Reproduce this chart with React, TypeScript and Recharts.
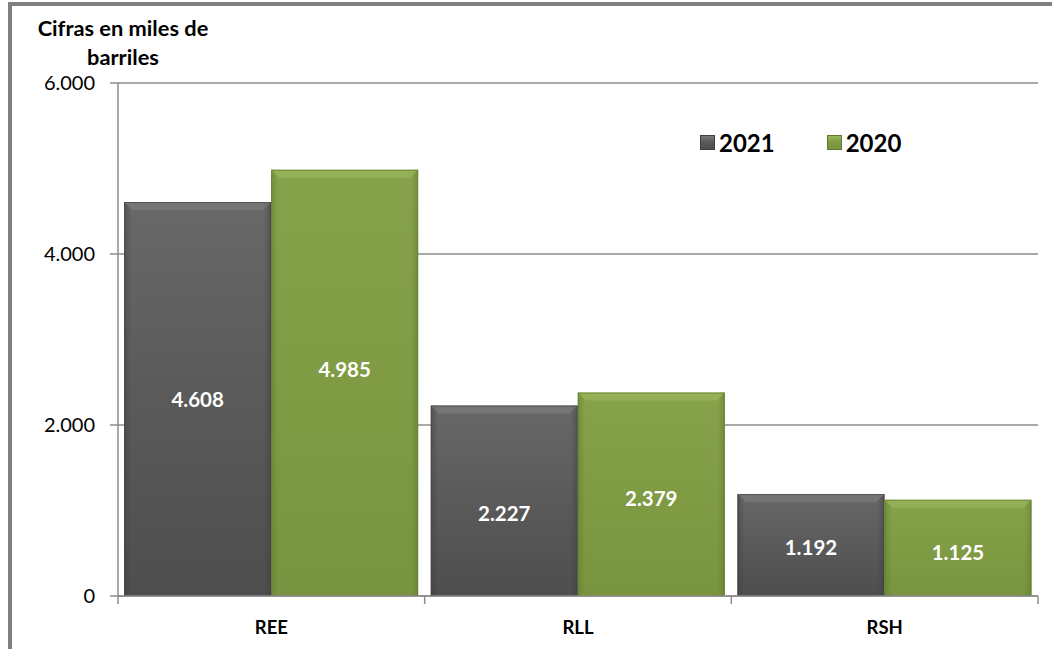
import React from "react";
import { BarChart, Bar, XAxis, YAxis, CartesianGrid, Legend, LabelList } from "recharts";

const categories = ["REE", "RLL", "RSH"];
const values2021 = [4608, 2227, 1192];
const values2020 = [4985, 2379, 1125];
const yTicks = [0, 2000, 4000, 6000];

// labels were hand-moved in the original, small vertical nudges (px)
const nudge2021 = [0, 12, 2];
const nudge2020 = [-14, 4, 4];

const data = categories.map((name, i) => ({
  name,
  y2021: values2021[i],
  y2020: values2020[i],
}));

const FONT = "Lato, 'Open Sans', sans-serif";
const fmt = (v: number) => v.toLocaleString("de-DE");

const palette: Record<string, { top: string; mid: string; bottom: string; edge: string; bevel: string }> = {
  gray: { top: "#686868", mid: "#5a5a5a", bottom: "#4e4e4e", edge: "#3e3e3e", bevel: "#7a7a7a" },
  green: { top: "#86a24a", mid: "#7f9b43", bottom: "#789440", edge: "#5f7a2e", bevel: "#98b55c" },
};

function BevelBar(props: any) {
  const { x, y, width, height, tone } = props;
  if (!width || !height) return null;
  const c = palette[tone];
  const b = 8;
  return (
    <g>
      <rect x={x} y={y} width={width} height={height} fill={`url(#v-${tone})`} />
      <rect x={x} y={y} width={width} height={height} fill={`url(#h-${tone})`} />
      <polygon
        points={`${x},${y} ${x + width},${y} ${x + width - b},${y + b} ${x + b},${y + b}`}
        fill={c.bevel}
        opacity={0.75}
      />
      <rect x={x + 0.5} y={y + 0.5} width={width - 1} height={height - 1} fill="none" stroke={c.edge} strokeOpacity={0.6} />
    </g>
  );
}

const BAND = (1038 - 118) / 3;

function CatTick(props: any) {
  const { x, y, payload, index } = props;
  const axisY = 596;
  return (
    <g>
      <line x1={x + BAND / 2} y1={axisY} x2={x + BAND / 2} y2={axisY + 8} stroke="#8c8c8c" strokeWidth={1.5} />
      {index === 0 && (
        <line x1={x - BAND / 2} y1={axisY} x2={x - BAND / 2} y2={axisY + 8} stroke="#8c8c8c" strokeWidth={1.5} />
      )}
      <text x={x} y={y + 30} textAnchor="middle" fontFamily={FONT} fontWeight={700} fontSize={18.5} fill="#000">
        {payload.value}
      </text>
    </g>
  );
}

function makeLabel(nudges: number[]) {
  return (props: any) => {
    const { x, y, width, height, value, index } = props;
    return (
      <text
        x={x + width / 2}
        y={y + height / 2 + (nudges[index] || 0)}
        textAnchor="middle"
        dominantBaseline="central"
        fontFamily={FONT}
        fontWeight={700}
        fontSize={20.5}
        fill="#fff"
      >
        {fmt(Number(value))}
      </text>
    );
  };
}

function LegendContent() {
  const items = [
    { label: "2021", tone: "gray" },
    { label: "2020", tone: "green" },
  ];
  return (
    <div style={{ display: "flex", alignItems: "center", fontFamily: FONT, fontWeight: 700, fontSize: 24 }}>
      {items.map((it) => (
        <div key={it.label} style={{ display: "flex", alignItems: "center", marginRight: 52 }}>
          <span
            style={{
              width: 13,
              height: 13,
              marginRight: 4,
              background: `linear-gradient(${palette[it.tone].bevel}, ${palette[it.tone].mid} 45%, ${palette[it.tone].bottom})`,
              border: `1px solid ${palette[it.tone].edge}`,
              display: "inline-block",
            }}
          />
          <span style={{ color: "#000" }}>{it.label}</span>
        </div>
      ))}
    </div>
  );
}

export default function App() {
  return (
    <div style={{ position: "fixed", left: 0, top: 0, width: 1052, height: 649, overflow: "hidden", background: "#fff" }}>
      <div
        style={{
          position: "absolute",
          left: 8,
          top: 2,
          width: 1200,
          height: 800,
          borderTop: "4px solid #808080",
          borderLeft: "4px solid #808080",
        }}
      />
      <div
        style={{
          position: "absolute",
          left: 22,
          top: 13,
          width: 202,
          textAlign: "center",
          fontFamily: FONT,
          fontWeight: 700,
          fontSize: 21.8,
          lineHeight: "29px",
          color: "#000",
        }}
      >
        Cifras en miles de
        <br />
        barriles
      </div>
      <div style={{ position: "absolute", left: 0, top: 0 }}>
        <BarChart
          width={1052}
          height={649}
          data={data}
          margin={{ top: 83, right: 14, bottom: 0, left: 0 }}
          barCategoryGap="2%"
          barGap={0}
        >
          <defs>
            {Object.keys(palette).map((k) => (
              <React.Fragment key={k}>
                <linearGradient id={`v-${k}`} x1="0" y1="0" x2="0" y2="1">
                  <stop offset="0%" stopColor={palette[k].top} />
                  <stop offset="50%" stopColor={palette[k].mid} />
                  <stop offset="100%" stopColor={palette[k].bottom} />
                </linearGradient>
                <linearGradient id={`h-${k}`} x1="0" y1="0" x2="1" y2="0">
                  <stop offset="0%" stopColor={palette[k].edge} stopOpacity={0.5} />
                  <stop offset="5%" stopColor={palette[k].edge} stopOpacity={0} />
                  <stop offset="95%" stopColor={palette[k].edge} stopOpacity={0} />
                  <stop offset="100%" stopColor={palette[k].edge} stopOpacity={0.5} />
                </linearGradient>
              </React.Fragment>
            ))}
          </defs>
          <CartesianGrid vertical={false} stroke="#8c8c8c" strokeWidth={1.5} />
          <XAxis
            dataKey="name"
            height={53}
            axisLine={{ stroke: "#8c8c8c", strokeWidth: 1.5 }}
            tickLine={false}
            tick={<CatTick />}
            interval={0}
          />
          <YAxis
            width={118}
            domain={[0, 6000]}
            ticks={yTicks}
            interval={0}
            tickFormatter={fmt}
            axisLine={{ stroke: "#8c8c8c", strokeWidth: 1.5 }}
            tickLine={{ stroke: "#8c8c8c", strokeWidth: 1.5 }}
            tickSize={8}
            tickMargin={15}
            tick={{ fontFamily: FONT, fontSize: 20, fill: "#000" }}
          />
          <Legend
            layout="horizontal"
            verticalAlign="middle"
            align="center"
            content={<LegendContent />}
            wrapperStyle={{ position: "absolute", left: 700, top: 128, width: 300 }}
          />
          <Bar dataKey="y2021" name="2021" isAnimationActive={false} shape={<BevelBar tone="gray" />}>
            <LabelList dataKey="y2021" content={makeLabel(nudge2021)} />
          </Bar>
          <Bar dataKey="y2020" name="2020" isAnimationActive={false} shape={<BevelBar tone="green" />}>
            <LabelList dataKey="y2020" content={makeLabel(nudge2020)} />
          </Bar>
        </BarChart>
      </div>
    </div>
  );
}
